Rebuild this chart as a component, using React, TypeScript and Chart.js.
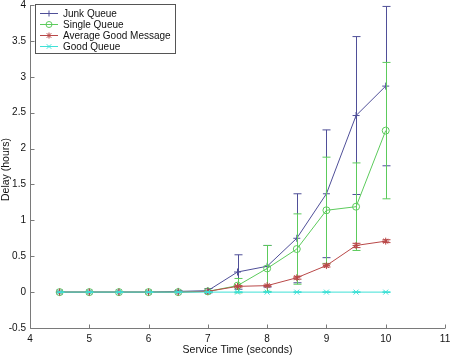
import React, { useEffect, useRef } from "react";
import { Chart, registerables } from "chart.js";

Chart.register(...registerables);

// ---- Data ----
const serviceTimes = [4.5, 5, 5.5, 6, 6.5, 7, 7.5, 8, 8.5, 9, 9.5, 10];
const junkQueue = [0, 0, 0, 0, 0.01, 0.02, 0.28, 0.36, 0.75, 1.37, 2.46, 2.87];
const junkQueueErr = [0, 0, 0, 0, 0.01, 0.03, 0.24, 0.29, 0.62, 0.89, 1.1, 1.11];
const singleQueue = [0, 0, 0, 0, 0, 0.01, 0.09, 0.33, 0.6, 1.14, 1.19, 2.25];
const singleQueueErr = [0, 0, 0, 0, 0.005, 0.01, 0.1, 0.32, 0.49, 0.74, 0.61, 0.95];
const avgGoodMessage = [0, 0, 0, 0, 0, 0.01, 0.08, 0.09, 0.2, 0.37, 0.65, 0.71];
const avgGoodMessageErr = [0, 0, 0, 0, 0, 0.005, 0.01, 0.01, 0.02, 0.02, 0.03, 0.02];
const goodQueue = [0, 0, 0, 0, 0, 0, 0, 0, 0, 0, 0, 0];
const goodQueueErr = [0.005, 0.005, 0.005, 0.005, 0.005, 0.005, 0.005, 0.005, 0.005, 0.005, 0.005, 0.005];

const seriesNames = ["Junk Queue", "Single Queue", "Average Good Message", "Good Queue"];
const seriesColors = ["#4f4f98", "#5ccb5c", "#b94848", "#3fe0d6"];
const seriesMarkers = ["cross", "circle", "star", "crossRot"];

const xTicks = [4, 5, 6, 7, 8, 9, 10, 11];
const yTicks = [-0.5, 0, 0.5, 1, 1.5, 2, 2.5, 3, 3.5, 4];

const xTitle = "Service Time (seconds)";
const yTitle = "Delay (hours)";

const FONT = "Liberation Sans, Arial, sans-serif";
const AXIS_COLOR = "#7a7a7a";
const TEXT_COLOR = "#111111";

function toPoints(vals: number[]) {
  return serviceTimes.map((x, i) => ({ x, y: vals[i] }));
}

function drawMarker(ctx: CanvasRenderingContext2D, style: string, x: number, y: number, r: number) {
  ctx.beginPath();
  if (style === "circle") {
    ctx.arc(x, y, r, 0, Math.PI * 2);
  } else if (style === "cross") {
    ctx.moveTo(x - r, y); ctx.lineTo(x + r, y);
    ctx.moveTo(x, y - r); ctx.lineTo(x, y + r);
  } else if (style === "crossRot") {
    const d = r * 0.75;
    ctx.moveTo(x - d, y - d); ctx.lineTo(x + d, y + d);
    ctx.moveTo(x - d, y + d); ctx.lineTo(x + d, y - d);
  } else {
    const d = r * 0.75;
    ctx.moveTo(x - r, y); ctx.lineTo(x + r, y);
    ctx.moveTo(x, y - r); ctx.lineTo(x, y + r);
    ctx.moveTo(x - d, y - d); ctx.lineTo(x + d, y + d);
    ctx.moveTo(x - d, y + d); ctx.lineTo(x + d, y - d);
  }
  ctx.stroke();
}

const errorBarPlugin = {
  id: "errorBars",
  afterDatasetDraw(chart: any, args: any) {
    const ds = chart.data.datasets[args.index];
    const errs: number[] = ds.errors;
    if (!errs) return;
    const xs = chart.scales.x;
    const ys = chart.scales.y;
    const ctx = chart.ctx;
    ctx.save();
    ctx.strokeStyle = ds.borderColor;
    ctx.lineWidth = 1;
    const cap = 4;
    ds.data.forEach((p: any, i: number) => {
      const e = errs[i];
      const px = Math.round(xs.getPixelForValue(p.x)) + 0.5;
      const top = ys.getPixelForValue(p.y + e);
      const bot = ys.getPixelForValue(p.y - e);
      ctx.beginPath();
      ctx.moveTo(px, top); ctx.lineTo(px, bot);
      ctx.moveTo(px - cap, top); ctx.lineTo(px + cap, top);
      ctx.moveTo(px - cap, bot); ctx.lineTo(px + cap, bot);
      ctx.stroke();
    });
    ctx.restore();
  },
};

const decorPlugin = {
  id: "decor",
  afterDraw(chart: any) {
    const ctx = chart.ctx;
    const area = chart.chartArea;
    const xs = chart.scales.x;
    const ys = chart.scales.y;
    ctx.save();
    // axis lines
    ctx.strokeStyle = AXIS_COLOR;
    ctx.lineWidth = 1;
    const left = Math.round(area.left) + 0.5;
    const bottom = Math.round(area.bottom) + 0.5;
    ctx.beginPath();
    ctx.moveTo(left, area.top);
    ctx.lineTo(left, bottom);
    ctx.lineTo(area.right, bottom);
    ctx.stroke();
    // inward ticks
    ctx.beginPath();
    xTicks.forEach((v) => {
      const px = Math.round(xs.getPixelForValue(v)) + 0.5;
      ctx.moveTo(px, bottom); ctx.lineTo(px, bottom - 4);
    });
    yTicks.forEach((v) => {
      const py = Math.round(ys.getPixelForValue(v)) + 0.5;
      ctx.moveTo(left, py); ctx.lineTo(left + 4, py);
    });
    ctx.stroke();

    // axis titles
    ctx.fillStyle = TEXT_COLOR;
    ctx.font = `10.5px ${FONT}`;
    ctx.textAlign = "center";
    ctx.textBaseline = "middle";
    ctx.fillText(xTitle, (area.left + area.right) / 2, 350);
    ctx.save();
    ctx.translate(6, (area.top + area.bottom) / 2 + 3);
    ctx.rotate(-Math.PI / 2);
    ctx.fillText(yTitle, 0, 0);
    ctx.restore();

    // legend
    const lx = 35.5, ly = 4.5, lw = 140, lh = 49;
    ctx.fillStyle = "#ffffff";
    ctx.fillRect(lx, ly, lw, lh);
    ctx.strokeStyle = "#555555";
    ctx.strokeRect(lx, ly, lw, lh);
    ctx.font = `10px ${FONT}`;
    ctx.textAlign = "left";
    ctx.textBaseline = "middle";
    chart.data.datasets.forEach((ds: any, i: number) => {
      const rowY = 13.5 + i * 11;
      ctx.strokeStyle = ds.borderColor;
      ctx.lineWidth = 1;
      ctx.beginPath();
      ctx.moveTo(40, rowY); ctx.lineTo(58, rowY);
      ctx.stroke();
      drawMarker(ctx, ds.pointStyle, 49, rowY, 3);
      ctx.fillStyle = TEXT_COLOR;
      ctx.fillText(ds.label, 63, rowY + 0.5);
    });
    ctx.restore();
  },
};

export default function App() {
  const canvasRef = useRef<HTMLCanvasElement | null>(null);

  useEffect(() => {
    const canvas = canvasRef.current;
    if (!canvas) return;
    const seriesValues = [junkQueue, singleQueue, avgGoodMessage, goodQueue];
    const seriesErrs = [junkQueueErr, singleQueueErr, avgGoodMessageErr, goodQueueErr];
    const orders = [3, 2, 1, 0];
    const datasets: any[] = seriesNames.map((name, i) => ({
      label: name,
      data: toPoints(seriesValues[i]),
      errors: seriesErrs[i],
      borderColor: seriesColors[i],
      backgroundColor: "rgba(0,0,0,0)",
      borderWidth: 1,
      pointStyle: seriesMarkers[i],
      pointRadius: seriesMarkers[i] === "circle" ? 3.5 : 3.5,
      pointBorderWidth: 1,
      pointBorderColor: seriesColors[i],
      pointBackgroundColor: "rgba(0,0,0,0)",
      tension: 0,
      fill: false,
      order: orders[i],
    }));

    const chart = new Chart(canvas, {
      type: "line",
      data: { datasets },
      options: {
        animation: false,
        responsive: false,
        devicePixelRatio: 1,
        layout: { padding: { left: 0, top: 3, right: 3, bottom: 0 } },
        plugins: {
          legend: { display: false },
          tooltip: { enabled: false },
          title: { display: false },
        },
        scales: {
          x: {
            type: "linear",
            min: 4,
            max: 11,
            grid: { display: false, drawTicks: false },
            border: { display: false },
            ticks: {
              stepSize: 1,
              autoSkip: false,
              maxRotation: 0,
              padding: 5,
              color: TEXT_COLOR,
              font: { family: FONT, size: 10 },
              callback: (v: any) => String(v),
            },
            afterFit: (s: any) => {
              s.height = 33;
              s.paddingLeft = 0;
              s.paddingRight = 0;
            },
          },
          y: {
            type: "linear",
            min: -0.5,
            max: 4,
            grid: { display: false, drawTicks: false },
            border: { display: false },
            ticks: {
              stepSize: 0.5,
              autoSkip: false,
              padding: 4,
              color: TEXT_COLOR,
              font: { family: FONT, size: 10 },
              callback: (v: any) => String(v),
            },
            afterFit: (s: any) => {
              s.width = 30;
              s.paddingTop = 0;
              s.paddingBottom = 0;
            },
          },
        },
      },
      plugins: [errorBarPlugin, decorPlugin],
    } as any);

    return () => chart.destroy();
  }, []);

  return (
    <div style={{ position: "absolute", left: 0, top: 0, width: 450, height: 361, background: "#fff" }}>
      <canvas ref={canvasRef} width={450} height={361} style={{ display: "block", width: 450, height: 361 }} />
    </div>
  );
}
